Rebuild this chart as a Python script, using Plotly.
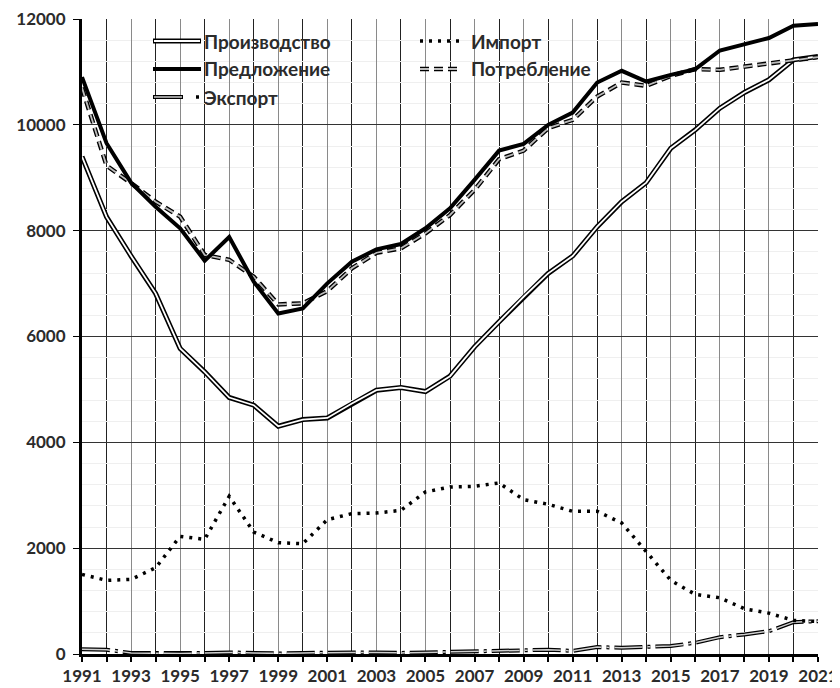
import plotly.graph_objects as go

years = list(range(1991, 2022))

production = [9400, 8260, 7520, 6815, 5774, 5332, 4847, 4702, 4304, 4431, 4461,
              4734, 4985, 5036, 4960, 5250, 5805, 6278, 6751, 7193, 7521,
              8075, 8548, 8908, 9558, 9905, 10315, 10611, 10851, 11229, 11292]
supply = [10902, 9653, 8908, 8453, 8045, 7432, 7880, 7035, 6436, 6531, 7004,
          7413, 7647, 7748, 8045, 8423, 8959, 9513, 9640, 10000, 10232,
          10800, 11021, 10818, 10945, 11053, 11405, 11513, 11640, 11873, 11905]
imports = [1504, 1391, 1410, 1630, 2223, 2166, 2980, 2305, 2104, 2085, 2539,
           2653, 2664, 2715, 3062, 3156, 3169, 3232, 2917, 2829, 2696,
           2696, 2475, 1926, 1391, 1126, 1063, 855, 772, 634, 615]
consumption = [10700, 9229, 8900, 8548, 8264, 7540, 7450, 7129, 6607, 6626, 6860,
               7288, 7583, 7666, 7950, 8297, 8769, 9350, 9513, 9937, 10094,
               10535, 10800, 10737, 10926, 11053, 11040, 11102, 11166, 11229, 11280]
exports = [90, 80, 20, 15, 10, 20, 30, 20, 10, 20, 30,
           30, 30, 20, 30, 40, 50, 60, 70, 80, 60,
           130, 120, 140, 150, 212, 318, 369, 431, 602, 620]

names = ["Производство", "Предложение", "Экспорт", "Импорт", "Потребление"]

fig = go.Figure()

# Экспорт (double long dash-dot)
exp_dash = "28px,5px,3px,5px"
fig.add_trace(go.Scatter(x=years, y=exports, mode="lines", name=names[2],
                         line=dict(color="black", width=4, dash=exp_dash), showlegend=False))
fig.add_trace(go.Scatter(x=years, y=exports, mode="lines", name=names[2],
                         line=dict(color="#cfcfcf", width=1.5, dash=exp_dash), showlegend=False))
# Импорт (dotted)
fig.add_trace(go.Scatter(x=years, y=imports, mode="lines", name=names[3],
                         line=dict(color="black", width=3.5, dash="3px,6px"), showlegend=False))
# Производство (double line)
fig.add_trace(go.Scatter(x=years, y=production, mode="lines", name=names[0],
                         line=dict(color="black", width=5), showlegend=False))
fig.add_trace(go.Scatter(x=years, y=production, mode="lines", name=names[0],
                         line=dict(color="white", width=1.8), showlegend=False))
# Потребление (double dashed)
cons_dash = "9px,5px"
fig.add_trace(go.Scatter(x=years, y=consumption, mode="lines", name=names[4],
                         line=dict(color="black", width=4.5, dash=cons_dash), showlegend=False))
fig.add_trace(go.Scatter(x=years, y=consumption, mode="lines", name=names[4],
                         line=dict(color="#bdbdbd", width=1.8, dash=cons_dash), showlegend=False))
# Предложение (thick solid)
fig.add_trace(go.Scatter(x=years, y=supply, mode="lines", name=names[1],
                         line=dict(color="black", width=4), showlegend=False))

# page has an 8px body margin; work in page pixels and shift
OFF = 8
W, H = 840 - OFF, 688 - OFF
L, R, T, B = 82, 818, 19, 654          # plot area in page pixels
def px(x):
    return (x - L) / (R - L)
def py(y):
    return (B - y) / (B - T)

shapes = []
annotations = []
rows = [41, 69, 97]
font = dict(family="Lato", size=19, color="#2b2b2b")

def seg(x0, x1, y, color, width, dash="solid"):
    shapes.append(dict(type="line", xref="paper", yref="paper",
                       x0=px(x0), x1=px(x1), y0=py(y), y1=py(y),
                       line=dict(color=color, width=width, dash=dash)))

# column 1
seg(153, 201, rows[0], "black", 5); seg(154, 200, rows[0], "white", 1.8)
seg(153, 201, rows[1], "black", 4)
seg(153, 183, rows[2], "black", 4); seg(154, 182, rows[2], "#cfcfcf", 1.5)
seg(196, 199, rows[2], "black", 3.5)
# column 2
seg(420, 462, rows[0], "black", 3.5, "3px,6px")
seg(420, 462, rows[1], "black", 4.5, cons_dash); seg(420, 462, rows[1], "#bdbdbd", 1.8, cons_dash)

for (x, y, t) in [(203, rows[0], names[0]), (203, rows[1], names[1]), (203, rows[2], names[2]),
                  (470, rows[0], names[3]), (470, rows[1], names[4])]:
    annotations.append(dict(xref="paper", yref="paper", x=px(x), y=py(y), text="<b>%s</b>" % t,
                            showarrow=False, xanchor="left", yanchor="middle", font=font,
                            borderpad=0))

tickfont = dict(family="Lato", size=17, color="#2b2b2b")

fig.update_layout(
    width=W, height=H,
    margin=dict(l=L - OFF, r=W - (R - OFF), t=T - OFF, b=H - (B - OFF), pad=0),
    paper_bgcolor="white", plot_bgcolor="white",
    shapes=shapes, annotations=annotations,
    showlegend=False,
    xaxis=dict(range=[1991, 2021], tick0=1991, dtick=2, tickmode="linear",
               automargin=False, ticklabeloverflow="allow",
               showgrid=True, gridcolor="#8a8a8a", gridwidth=1,
               ticks="outside", ticklen=5, tickcolor="black", tickwidth=1.5,
               tickfont=tickfont, tickprefix="<b>", ticksuffix="</b>",
               ticklabelstandoff=0,
               showline=True, linecolor="black", linewidth=3, zeroline=False,
               minor=dict(dtick=1, tick0=1991, showgrid=True, gridcolor="#222222", gridwidth=1,
                          ticks="outside", ticklen=5, tickcolor="black")),
    yaxis=dict(range=[0, 12000], dtick=2000, tick0=0, tickmode="linear",
               automargin=False, tickformat="d", ticklabeloverflow="allow",
               showgrid=True, gridcolor="#333333", gridwidth=1,
               ticks="outside", ticklen=6, tickcolor="black",
               tickfont=tickfont, tickprefix="<b>", ticksuffix="</b>",
               ticklabelstandoff=4,
               showline=True, linecolor="black", linewidth=3, zeroline=False,
               minor=dict(dtick=400, showgrid=True, gridcolor="#efefef", gridwidth=1)),
)

fig.write_html("out.html")
